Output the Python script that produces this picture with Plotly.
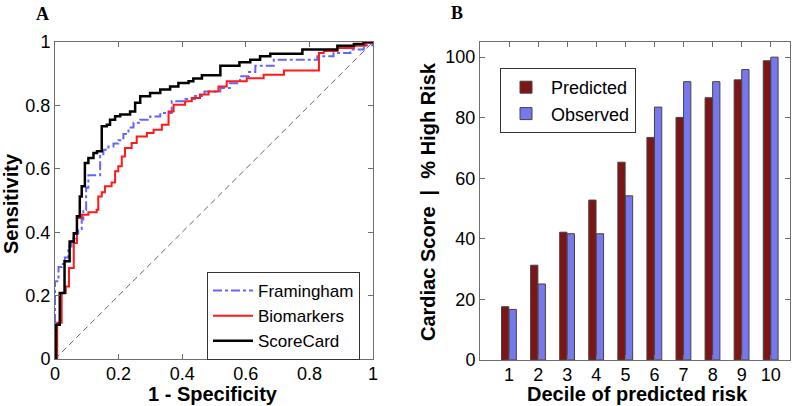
import plotly.graph_objects as go

# ---------------- Panel A: ROC curves ----------------
fram_x = [0, 0, 0.011, 0.021, 0.031, 0.042, 0.052, 0.063, 0.073, 0.084, 0.089, 0.098, 0.105,
          0.142, 0.152, 0.168, 0.184, 0.199, 0.215, 0.231, 0.247, 0.268, 0.299, 0.331, 0.367,
          0.41, 0.44, 0.47, 0.52, 0.55, 0.582, 0.61, 0.63, 0.688, 0.825, 0.876, 0.929, 0.971, 1.0]
fram_y = [0, 0.245, 0.29, 0.30, 0.32, 0.355, 0.38, 0.395, 0.41, 0.44, 0.47, 0.54, 0.58,
          0.64, 0.66, 0.67, 0.68, 0.69, 0.71, 0.73, 0.745, 0.755, 0.765, 0.776, 0.813,
          0.82, 0.83, 0.844, 0.855, 0.87, 0.892, 0.905, 0.925, 0.944, 0.955, 0.965, 0.976, 0.99, 1.0]

bio_x = [0, 0.007, 0.021, 0.034, 0.044, 0.059, 0.069, 0.084, 0.105, 0.131, 0.136, 0.147, 0.157,
         0.178, 0.189, 0.199, 0.210, 0.220, 0.241, 0.257, 0.289, 0.310, 0.336, 0.357, 0.373,
         0.409, 0.430, 0.456, 0.483, 0.514, 0.540, 0.603, 0.656, 0.72, 0.83, 0.845, 0.888,
         0.94, 0.977, 1.0]
bio_y = [0, 0.114, 0.208, 0.229, 0.287, 0.366, 0.445, 0.455, 0.463, 0.471, 0.513, 0.526, 0.545,
         0.557, 0.592, 0.608, 0.639, 0.666, 0.681, 0.702, 0.713, 0.723, 0.739, 0.781, 0.802,
         0.813, 0.823, 0.834, 0.844, 0.86, 0.876, 0.886, 0.897, 0.91, 0.965, 0.972, 0.981,
         0.988, 0.997, 1.0]

card_x = [0, 0.003, 0.015, 0.03, 0.046, 0.059, 0.069, 0.078, 0.084, 0.094, 0.105, 0.121, 0.132,
          0.147, 0.163, 0.173, 0.189, 0.205, 0.236, 0.252, 0.268, 0.299, 0.331, 0.362, 0.388,
          0.42, 0.435, 0.462, 0.52, 0.58, 0.614, 0.645, 0.677, 0.778, 0.888, 0.94, 0.97, 1.0]
card_y = [0, 0.108, 0.208, 0.308, 0.371, 0.397, 0.45, 0.513, 0.545, 0.618, 0.634, 0.650, 0.655,
          0.734, 0.739, 0.755, 0.766, 0.771, 0.781, 0.808, 0.829, 0.839, 0.85, 0.86, 0.871,
          0.876, 0.885, 0.895, 0.925, 0.936, 0.944, 0.955, 0.963, 0.976, 0.988, 0.994, 1.0, 1.0]

chance_x = [0, 1]
chance_y = [0, 1]

roc_ticks = [0, 0.2, 0.4, 0.6, 0.8, 1.0]
roc_ticktext = ["0", "0.2", "0.4", "0.6", "0.8", "1"]

# ---------------- Panel B: deciles ----------------
deciles = [1, 2, 3, 4, 5, 6, 7, 8, 9, 10]
predicted = [17.6, 31.3, 42.2, 52.8, 65.3, 73.5, 80.1, 86.6, 92.5, 98.8]
observed = [16.7, 25.1, 41.7, 41.7, 54.2, 83.5, 91.9, 91.9, 95.9, 100.0]
b_yticks = [0, 20, 40, 60, 80, 100]

SANS = "Liberation Sans, Arial, sans-serif"
AXC = "#6e6e6e"

W, H = 800, 406


def px_x(p):
    return p / W


def px_y(p):
    return 1 - p / H


fig = go.Figure()

fig.add_trace(go.Scatter(x=chance_x, y=chance_y, mode="lines", showlegend=False,
                         line=dict(color="#666666", width=1, dash="6px,4px"),
                         xaxis="x", yaxis="y", hoverinfo="skip"))
fig.add_trace(go.Scatter(x=fram_x, y=fram_y, mode="lines", name="Framingham",
                         line=dict(color="#6464ff", width=2, dash="dashdot", shape="hv"),
                         xaxis="x", yaxis="y", legend="legend"))
fig.add_trace(go.Scatter(x=bio_x, y=bio_y, mode="lines", name="Biomarkers",
                         line=dict(color="#ff1a1a", width=2, shape="hv"),
                         xaxis="x", yaxis="y", legend="legend"))
fig.add_trace(go.Scatter(x=card_x, y=card_y, mode="lines", name="ScoreCard",
                         line=dict(color="#000000", width=2.5, shape="hv"),
                         xaxis="x", yaxis="y", legend="legend"))

fig.add_trace(go.Bar(x=deciles, y=predicted, name="Predicted", width=0.25, offset=-0.26,
                     marker=dict(color="#7d1516", line=dict(color="#444444", width=1)),
                     xaxis="x2", yaxis="y2", legend="legend2"))
fig.add_trace(go.Bar(x=deciles, y=observed, name="Observed", width=0.25, offset=0.0,
                     marker=dict(color="#7878ee", line=dict(color="#444444", width=1)),
                     xaxis="x2", yaxis="y2", legend="legend2"))

common_axis = dict(showline=True, linecolor=AXC, linewidth=1, mirror="ticks",
                   ticks="inside", ticklen=5, tickcolor=AXC, showgrid=False, zeroline=False,
                   automargin=False,
                   tickfont=dict(family=SANS, size=18, color="#000000"))
title_font = dict(family=SANS, size=20, color="#000000")
label_font = dict(family="Liberation Serif, Times New Roman, serif", size=18, color="#000")

fig.update_layout(
    width=W, height=H,
    margin=dict(l=0, r=0, t=0, b=0, autoexpand=False),
    paper_bgcolor="white", plot_bgcolor="white",
    barmode="overlay",
    xaxis=dict(domain=[px_x(55), px_x(373)], range=[0, 1], tickvals=roc_ticks,
               ticktext=roc_ticktext, anchor="y", ticklabelstandoff=-2, **common_axis),
    yaxis=dict(domain=[px_y(359), px_y(42)], range=[0, 1], tickvals=roc_ticks,
               ticktext=roc_ticktext, anchor="x", **common_axis),
    xaxis2=dict(domain=[px_x(480), px_x(790)], range=[0.0, 10.66], tickvals=deciles,
                anchor="y2", ticklabelstandoff=-2, **common_axis),
    yaxis2=dict(domain=[px_y(360), px_y(42)], range=[0, 105], tickvals=b_yticks,
                anchor="x2", **common_axis),
    legend=dict(x=px_x(207), y=px_y(272), xanchor="left", yanchor="top",
                bgcolor="white", bordercolor="#333333", borderwidth=1,
                font=dict(family=SANS, size=17, color="#000000"),
                itemwidth=40, tracegroupgap=0),
    legend2=dict(x=px_x(500), y=px_y(68), xanchor="left", yanchor="top",
                 bgcolor="white", bordercolor="#333333", borderwidth=1,
                 font=dict(family=SANS, size=18, color="#000000"),
                 itemwidth=40, tracegroupgap=0),
    annotations=[
        dict(text="<b>A</b>", x=px_x(34), y=px_y(2), xref="paper", yref="paper",
             xanchor="left", yanchor="top", showarrow=False, font=label_font),
        dict(text="<b>B</b>", x=px_x(449), y=px_y(1), xref="paper", yref="paper",
             xanchor="left", yanchor="top", showarrow=False, font=label_font),
        dict(text="<b>1 - Specificity</b>", x=px_x(213), y=px_y(394), xref="paper", yref="paper",
             xanchor="center", yanchor="middle", showarrow=False, font=title_font),
        dict(text="<b>Sensitivity</b>", x=px_x(11), y=px_y(204), xref="paper", yref="paper",
             xanchor="center", yanchor="middle", showarrow=False, textangle=-90, font=title_font),
        dict(text="<b>Decile of predicted risk</b>", x=px_x(637), y=px_y(394), xref="paper",
             yref="paper", xanchor="center", yanchor="middle", showarrow=False, font=title_font),
        dict(text="<b>Cardiac Score  |  % High Risk</b>", x=px_x(428), y=px_y(202), xref="paper",
             yref="paper", xanchor="center", yanchor="middle", showarrow=False, textangle=-90,
             font=title_font),
    ],
)

fig.write_html("out.html", config={"displayModeBar": False},
               post_script="document.body.style.margin='0px';")
